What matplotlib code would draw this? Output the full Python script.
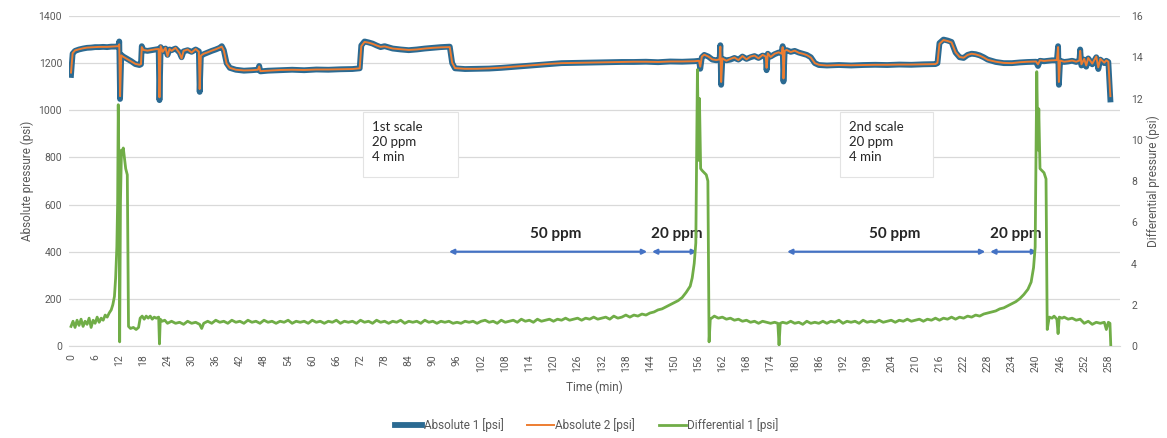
import matplotlib
matplotlib.use("Agg")
import matplotlib.pyplot as plt
from matplotlib.patches import Rectangle

# (time min, pressure psi)
abs1_points = [
    (0, 1150), (0.4, 1240), (1, 1252), (2, 1258), (3, 1262), (4, 1265), (5, 1266),
    (6, 1268), (7, 1268), (8, 1269), (9, 1268), (10, 1270), (11, 1270), (11.8, 1272),
    (12.0, 1292), (12.2, 1048), (12.5, 1235), (13, 1228), (14, 1218), (15, 1208),
    (16, 1196), (17, 1192), (17.4, 1195), (17.6, 1272), (18, 1255), (19, 1252),
    (20, 1255), (21, 1258), (21.8, 1260), (22.0, 1043), (22.3, 1268), (22.8, 1250),
    (23.5, 1262), (24, 1235), (24.5, 1258), (25, 1255), (26, 1262), (27, 1245),
    (27.5, 1225), (28, 1250), (29, 1255), (30, 1248), (31, 1258), (31.8, 1250),
    (32.0, 1078), (32.3, 1230), (33, 1238), (34, 1245), (35, 1252), (36, 1258),
    (37, 1265), (37.5, 1272), (38, 1255), (38.7, 1200), (39.5, 1180), (41, 1172),
    (43, 1168), (45, 1170), (46.5, 1172), (46.8, 1188), (47.1, 1165), (49, 1168),
    (52, 1170), (55, 1172), (58, 1170), (61, 1173), (64, 1172), (67, 1174),
    (70, 1175), (71.8, 1178), (72.2, 1275), (73, 1292), (74, 1288), (75, 1283),
    (76, 1275), (77, 1268), (78, 1272), (80, 1262), (82, 1258), (84, 1255),
    (86, 1258), (88, 1262), (90, 1265), (92, 1268), (94.2, 1270), (94.8, 1200),
    (95.5, 1178), (98, 1175), (101, 1176), (104, 1177), (107, 1180), (110, 1184),
    (113, 1188), (116, 1192), (119, 1196), (122, 1200), (125, 1201), (128, 1202),
    (131, 1203), (134, 1204), (137, 1205), (140, 1205), (143, 1206), (146, 1204),
    (149, 1207), (152, 1206), (155, 1208), (156.2, 1210), (156.5, 1176),
    (156.9, 1225), (157.5, 1235), (158.5, 1228), (159.5, 1215), (160.5, 1212),
    (161.3, 1215), (161.5, 1276), (161.7, 1108), (162, 1218), (163, 1212),
    (164, 1215), (165, 1222), (166, 1215), (167, 1228), (168, 1218), (169, 1225),
    (170, 1230), (171, 1222), (172, 1232), (172.8, 1230), (173.0, 1170),
    (173.3, 1240), (174, 1228), (175, 1238), (176, 1245), (176.8, 1242),
    (177.0, 1272), (177.2, 1122), (177.5, 1250), (178, 1255), (179, 1248),
    (180, 1252), (181, 1245), (182, 1240), (183, 1235), (184, 1225), (185, 1200),
    (186, 1192), (188, 1190), (191, 1192), (194, 1190), (197, 1192), (200, 1193),
    (203, 1192), (206, 1194), (209, 1193), (212, 1195), (215, 1196), (215.5, 1200),
    (216, 1285), (217, 1300), (218, 1296), (219, 1290), (220, 1245), (221, 1225),
    (222, 1222), (223, 1235), (224, 1240), (225, 1238), (226, 1233), (227, 1225),
    (228, 1215), (229, 1210), (230, 1205), (232, 1200), (234, 1200), (236, 1203),
    (238, 1205), (240, 1206), (240.5, 1188), (241, 1210), (242, 1208), (243, 1210),
    (244, 1212), (245.2, 1212), (245.5, 1272), (245.7, 1108), (246, 1210),
    (247, 1205), (248, 1207), (249, 1210), (250, 1205), (250.8, 1210), (251, 1258),
    (251.3, 1190), (252, 1215), (252.5, 1185), (253, 1220), (254, 1195),
    (255, 1225), (255.5, 1175), (256, 1215), (257, 1200), (257.5, 1210),
    (258, 1205), (258.5, 1046),
]

abs2_points = [
    (0, 1160), (0.4, 1242), (1, 1254), (2, 1259), (3, 1263), (4, 1266), (5, 1267),
    (6, 1268), (7, 1269), (8, 1269), (9, 1269), (10, 1270), (11, 1271), (11.8, 1272),
    (12.0, 1280), (12.2, 1060), (12.5, 1233), (13, 1227), (14, 1217), (15, 1207),
    (16, 1197), (17, 1193), (17.4, 1196), (17.6, 1268), (18, 1256), (19, 1253),
    (20, 1256), (21, 1259), (21.8, 1260), (22.0, 1055), (22.3, 1272), (22.8, 1248),
    (23.5, 1265), (24, 1230), (24.5, 1260), (25, 1252), (26, 1265), (27, 1242),
    (27.5, 1220), (28, 1252), (29, 1258), (30, 1245), (31, 1260), (31.8, 1248),
    (32.0, 1090), (32.3, 1232), (33, 1240), (34, 1246), (35, 1253), (36, 1259),
    (37, 1266), (37.5, 1270), (38, 1254), (38.7, 1198), (39.5, 1180), (41, 1172),
    (43, 1169), (45, 1170), (46.5, 1172), (46.8, 1186), (47.1, 1166), (49, 1168),
    (52, 1171), (55, 1172), (58, 1171), (61, 1173), (64, 1173), (67, 1174),
    (70, 1175), (71.8, 1178), (72.2, 1272), (73, 1290), (74, 1287), (75, 1282),
    (76, 1275), (77, 1269), (78, 1271), (80, 1262), (82, 1259), (84, 1256),
    (86, 1258), (88, 1262), (90, 1265), (92, 1267), (94.2, 1268), (94.8, 1202),
    (95.5, 1179), (98, 1176), (101, 1176), (104, 1178), (107, 1181), (110, 1185),
    (113, 1189), (116, 1193), (119, 1197), (122, 1200), (125, 1201), (128, 1202),
    (131, 1203), (134, 1204), (137, 1205), (140, 1206), (143, 1206), (146, 1205),
    (149, 1207), (152, 1207), (155, 1208), (156.2, 1210), (156.5, 1185),
    (156.9, 1228), (157.5, 1236), (158.5, 1228), (159.5, 1216), (160.5, 1213),
    (161.3, 1216), (161.5, 1270), (161.7, 1120), (162, 1220), (163, 1210),
    (164, 1218), (165, 1224), (166, 1213), (167, 1230), (168, 1216), (169, 1228),
    (170, 1232), (171, 1220), (172, 1235), (172.8, 1228), (173.0, 1180),
    (173.3, 1242), (174, 1226), (175, 1240), (176, 1246), (176.8, 1240),
    (177.0, 1268), (177.2, 1135), (177.5, 1252), (178, 1256), (179, 1247),
    (180, 1253), (181, 1244), (182, 1240), (183, 1234), (184, 1224), (185, 1200),
    (186, 1193), (188, 1190), (191, 1192), (194, 1191), (197, 1192), (200, 1193),
    (203, 1193), (206, 1194), (209, 1194), (212, 1195), (215, 1196), (215.5, 1202),
    (216, 1282), (217, 1298), (218, 1294), (219, 1288), (220, 1246), (221, 1226),
    (222, 1223), (223, 1235), (224, 1240), (225, 1237), (226, 1232), (227, 1224),
    (228, 1214), (229, 1210), (230, 1206), (232, 1201), (234, 1200), (236, 1204),
    (238, 1206), (240, 1207), (240.5, 1195), (241, 1212), (242, 1209), (243, 1211),
    (244, 1212), (245.2, 1213), (245.5, 1268), (245.7, 1120), (246, 1211),
    (247, 1206), (248, 1208), (249, 1211), (250, 1206), (250.8, 1211), (251, 1252),
    (251.3, 1195), (252, 1218), (252.5, 1190), (253, 1222), (254, 1198),
    (255, 1228), (255.5, 1182), (256, 1218), (257, 1202), (257.5, 1212),
    (258, 1206), (258.5, 1060),
]

diff_points = [
    (0, 0.95), (0.5, 1.2), (1, 0.9), (1.5, 1.25), (2, 1.0), (2.5, 1.3), (3, 0.95),
    (3.5, 1.2), (4, 1.05), (4.5, 1.35), (5, 0.9), (5.5, 1.25), (6, 1.1), (6.5, 1.4),
    (7, 1.15), (7.5, 1.35), (8, 1.25), (8.5, 1.5), (9, 1.4), (9.5, 1.6), (10, 1.75),
    (10.4, 2.0), (10.8, 2.4), (11.1, 3.3), (11.4, 4.8), (11.6, 7.0), (11.75, 11.7),
    (11.95, 8.0), (12.1, 0.2), (12.3, 7.0), (12.55, 9.5), (12.8, 9.3), (13.0, 9.6),
    (13.3, 9.1), (13.6, 8.6), (14.0, 8.3), (14.3, 0.95), (14.8, 0.85), (15.5, 0.9),
    (16.2, 0.8), (16.8, 0.9), (17.2, 1.35), (17.7, 1.45), (18.2, 1.3), (18.7, 1.45),
    (19.2, 1.35), (19.7, 1.45), (20.2, 1.3), (20.7, 1.4), (21.2, 1.35), (21.8, 1.4),
    (22.0, 0.1), (22.2, 1.3), (22.7, 1.2), (23.3, 1.25), (24, 1.1), (25, 1.2),
    (26, 1.1), (27, 1.15), (28, 1.05), (29, 1.2), (30, 1.1), (31, 1.15), (32, 1.05),
    (32.5, 0.85), (33, 1.1), (34, 1.2), (35, 1.1), (36, 1.25), (37, 1.15), (38, 1.2),
    (39, 1.1), (40, 1.25), (41, 1.15), (42, 1.2), (43, 1.1), (44, 1.25), (45, 1.15),
    (46, 1.2), (47, 1.1), (48, 1.25), (49, 1.15), (50, 1.2), (51, 1.1), (52, 1.2),
    (53, 1.15), (54, 1.25), (55, 1.1), (56, 1.2), (57, 1.15), (58, 1.2), (59, 1.1),
    (60, 1.25), (61, 1.15), (62, 1.2), (63, 1.1), (64, 1.2), (65, 1.15), (66, 1.25),
    (67, 1.1), (68, 1.2), (69, 1.15), (70, 1.2), (71, 1.1), (72, 1.25), (73, 1.15),
    (74, 1.2), (75, 1.1), (76, 1.25), (77, 1.15), (78, 1.2), (79, 1.1), (80, 1.2),
    (81, 1.15), (82, 1.25), (83, 1.1), (84, 1.2), (85, 1.15), (86, 1.2), (87, 1.1),
    (88, 1.25), (89, 1.15), (90, 1.2), (91, 1.1), (92, 1.2), (93, 1.15), (94, 1.2),
    (95, 1.1), (96, 1.15), (97, 1.1), (98, 1.2), (99, 1.15), (100, 1.2), (101, 1.1),
    (102, 1.2), (103, 1.25), (104, 1.15), (105, 1.2), (106, 1.1), (107, 1.25),
    (108, 1.15), (109, 1.2), (110, 1.25), (111, 1.15), (112, 1.3), (113, 1.2),
    (114, 1.25), (115, 1.15), (116, 1.3), (117, 1.2), (118, 1.25), (119, 1.3),
    (120, 1.2), (121, 1.3), (122, 1.25), (123, 1.35), (124, 1.25), (125, 1.3),
    (126, 1.35), (127, 1.25), (128, 1.35), (129, 1.3), (130, 1.4), (131, 1.3),
    (132, 1.35), (133, 1.4), (134, 1.3), (135, 1.45), (136, 1.35), (137, 1.4),
    (138, 1.5), (139, 1.4), (140, 1.5), (141, 1.45), (142, 1.55), (143, 1.5),
    (144, 1.6), (145, 1.65), (146, 1.75), (147, 1.8), (148, 1.9), (149, 2.0),
    (150, 2.1), (151, 2.2), (152, 2.35), (153, 2.6), (154, 2.9), (154.5, 3.3),
    (155, 4.0), (155.4, 5.0), (155.8, 13.4), (156.1, 9.0), (156.3, 12.0),
    (156.6, 8.6), (157, 8.5), (157.5, 8.4), (158, 8.3), (158.4, 8.0), (158.7, 0.2),
    (159, 1.3), (160, 1.45), (161, 1.35), (162, 1.4), (163, 1.3), (164, 1.35),
    (165, 1.25), (166, 1.3), (167, 1.2), (168, 1.25), (169, 1.15), (170, 1.2),
    (171, 1.1), (172, 1.2), (173, 1.15), (174, 1.1), (175, 1.15), (175.8, 1.1),
    (176.1, 0.05), (176.4, 1.1), (177, 1.15), (178, 1.1), (179, 1.2), (180, 1.1),
    (181, 1.15), (182, 1.05), (183, 1.2), (184, 1.1), (185, 1.15), (186, 1.1),
    (187, 1.2), (188, 1.1), (189, 1.2), (190, 1.15), (191, 1.25), (192, 1.1),
    (193, 1.2), (194, 1.15), (195, 1.2), (196, 1.1), (197, 1.25), (198, 1.15),
    (199, 1.2), (200, 1.15), (201, 1.25), (202, 1.15), (203, 1.2), (204, 1.25),
    (205, 1.15), (206, 1.25), (207, 1.2), (208, 1.3), (209, 1.2), (210, 1.25),
    (211, 1.3), (212, 1.2), (213, 1.3), (214, 1.25), (215, 1.35), (216, 1.25),
    (217, 1.35), (218, 1.3), (219, 1.4), (220, 1.3), (221, 1.4), (222, 1.35),
    (223, 1.45), (224, 1.4), (225, 1.5), (226, 1.45), (227, 1.55), (228, 1.6),
    (229, 1.65), (230, 1.7), (231, 1.8), (232, 1.85), (233, 1.95), (234, 2.05),
    (235, 2.15), (236, 2.3), (237, 2.5), (238, 2.75), (238.8, 3.1), (239.4, 3.8),
    (239.8, 4.8), (240.2, 13.3), (240.5, 9.5), (240.7, 11.5), (241, 8.6),
    (241.5, 8.5), (242, 8.4), (242.5, 8.1), (242.8, 0.8), (243.3, 1.4), (244, 1.35),
    (244.5, 1.45), (245.2, 1.3), (245.5, 0.6), (245.8, 1.4), (246.5, 1.35),
    (247, 1.4), (248, 1.3), (249, 1.35), (250, 1.25), (251, 1.3), (252, 1.1),
    (253, 1.2), (254, 1.05), (255, 1.15), (256, 1.1), (257, 1.15), (257.5, 0.8),
    (258, 1.15), (258.4, 1.1), (258.6, 0.05),
]

# ppm ranges marked with blue arrows (start min, end min)
arrow_starts = [94.0, 144.5, 178.1, 228.6]
arrow_ends = [143.3, 155.7, 227.4, 240.3]
arrow_labels = ["50 ppm", "20 ppm", "50 ppm", "20 ppm"]
arrow_level = 400

box_texts = ["1st scale\n20 ppm\n4 min", "2nd scale\n20 ppm\n4 min"]
box_starts = [72.6, 191.3]
box_ends = [96.3, 214.4]

x_ticks = list(range(0, 259, 6))

BLUE = "#2B6A92"
ORANGE = "#ED7D31"
GREEN = "#70AD47"
ARROW = "#4472C4"
GREY = "#595959"

plt.rcParams["font.family"] = ["Roboto", "DejaVu Sans"]

fig = plt.figure(figsize=(11.67, 4.38), dpi=100)
ax = fig.add_axes([69 / 1167, 1 - 346 / 438, (1120 - 69) / 1167, 330 / 438])
ax2 = ax.twinx()

t1, p1 = zip(*abs1_points)
t2, p2 = zip(*abs2_points)
td, pd_ = zip(*diff_points)

ax.plot(t1, p1, color=BLUE, lw=4.2, solid_joinstyle="round", label="Absolute 1 [psi]", zorder=3)
ax.plot(t2, p2, color=ORANGE, lw=1.4, label="Absolute 2 [psi]", zorder=4)
ax2.plot(td, pd_, color=GREEN, lw=2.0, label="Differential 1 [psi]", zorder=5)

ax.set_xlim(-0.5, 260.9)
ax.set_ylim(0, 1400)
ax2.set_ylim(0, 16)
ax.set_yticks(range(0, 1401, 200))
ax2.set_yticks(range(0, 17, 2))
ax.set_xticks(x_ticks)
ax.set_xticklabels([str(v) for v in x_ticks], rotation=90)

ax.grid(axis="y", color="#D9D9D9", lw=0.9)
ax.set_axisbelow(True)
for a in (ax, ax2):
    for s in a.spines.values():
        s.set_visible(False)
    a.tick_params(length=0, colors=GREY, labelsize=7.5)
ax.spines["bottom"].set_visible(True)
ax.spines["bottom"].set_color("#D9D9D9")
ax.tick_params(axis="y", pad=5)
ax.tick_params(axis="x", pad=6)
ax2.tick_params(axis="y", pad=8)

ax.set_xlabel("Time (min)", color=GREY, fontsize=8.5, labelpad=6)
ax.set_ylabel("Absolute pressure (psi)", color=GREY, fontsize=8.5, labelpad=3)
ax2.set_ylabel("Differential pressure (psi)", color=GREY, fontsize=8.5, labelpad=3)

# arrows with ppm labels
for x0, x1, lab in zip(arrow_starts, arrow_ends, arrow_labels):
    ax.annotate("", xy=(x1, arrow_level), xytext=(x0, arrow_level),
                arrowprops=dict(arrowstyle="<|-|>", color=ARROW, lw=1.6,
                                mutation_scale=7, shrinkA=0, shrinkB=0), zorder=6)
    ax.text((x0 + x1) / 2 + (2 if x1 - x0 > 20 else 0.5), arrow_level + 45, lab,
            ha="center", va="bottom", fontsize=11, family="Lato",
            weight="bold", color="#262626", zorder=7)

# text boxes
for x0, x1, txt in zip(box_starts, box_ends, box_texts):
    ax.add_patch(Rectangle((x0, 715), x1 - x0, 276, facecolor="white",
                           edgecolor="#E3E3E3", lw=0.8, zorder=2))
    ax.text(x0 + 2.3, 955, txt, ha="left", va="top", fontsize=9.5,
            family="Lato", color="#262626", linespacing=1.3, zorder=3)

h1, l1 = ax.get_legend_handles_labels()
h2, l2 = ax2.get_legend_handles_labels()
fig.legend(h1 + h2, l1 + l2, loc="center", bbox_to_anchor=(0.503, 0.03), ncol=3,
           frameon=False, fontsize=8.5, handlelength=2.3, handletextpad=0.1,
           columnspacing=2.0, labelcolor=GREY)

fig.savefig("out.png", dpi=100)
